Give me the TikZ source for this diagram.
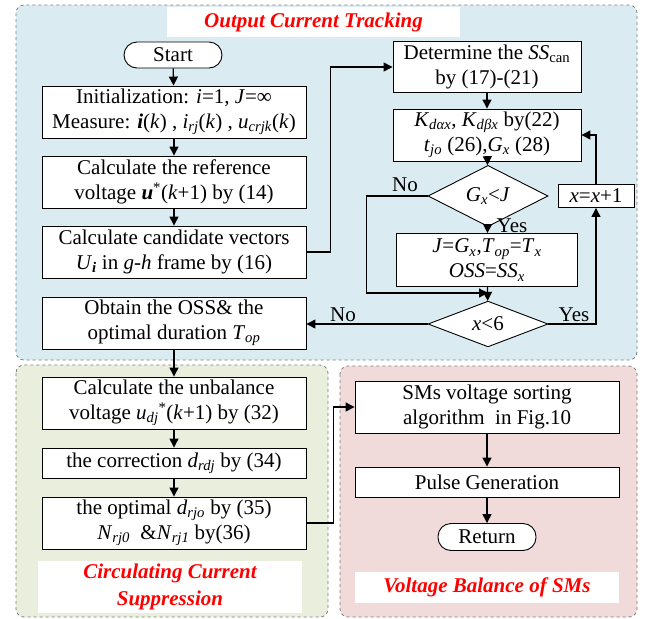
\documentclass[tikz,border=0pt]{standalone}
\usepackage{fontspec}
\setmainfont{Liberation Serif}
\usepackage{xcolor}
\usetikzlibrary{positioning,shapes,shapes.geometric,arrows.meta,calc}
\definecolor{trackbg}{HTML}{DAECF2}
\definecolor{circbg}{HTML}{E9EEDD}
\definecolor{balbg}{HTML}{F0DADA}
\definecolor{framegray}{HTML}{7F7F7F}
\newcommand{\sbs}[1]{\textsubscript{\textit{#1}}}
\tikzset{
    proc/.style={rectangle, draw, fill=white, line width=0.9pt, minimum width=264pt, minimum height=52pt, inner sep=0pt, align=center, font=\fontsize{21}{25}\selectfont},
    term/.style={rectangle, draw, fill=white, rounded corners=13pt, line width=0.9pt, minimum width=98pt, minimum height=26pt, inner sep=0pt, font=\fontsize{21}{25}\selectfont},
    decide/.style={diamond, draw, fill=white, line width=0.9pt, minimum width=120pt, minimum height=37pt, inner sep=0pt, font=\fontsize{21}{25}\selectfont},
    container/.style={draw=framegray, dashed, rounded corners=8pt, line width=0.8pt},
    title/.style={rectangle, fill=white, inner sep=0pt, align=center, text=red, font=\fontsize{21}{27}\selectfont\bfseries\itshape},
    lbl/.style={font=\fontsize{21}{25}\selectfont, inner sep=0pt},
    arrow/.style={-{Triangle[length=9pt,width=9pt]}, line width=1.3pt}
}

\begin{document}
\begin{tikzpicture}[x=1pt,y=-1pt]
\useasboundingbox (0,0) rectangle (649,619);
% the three areas
\draw[container, fill=trackbg] (16,5) rectangle (637,360);
\draw[container, fill=circbg] (16,365) rectangle (328,617);
\draw[container, fill=balbg] (340,366) rectangle (637,617);
\node[title, minimum width=293pt, minimum height=30pt] (ttrack) at (313.5,22) {Output Current Tracking};
\node[title, minimum width=264pt, minimum height=52pt] (tcirc) at (170,587) {Circulating Current\\Suppression};
\node[title, minimum width=264pt, minimum height=31pt] (tbal) at (487,587.5) {Voltage Balance of SMs};

% left column
\node[term] (start) at (173,55) {Start};
\node[proc] (init) at (174,112) {Initialization: \textit{i}=1, \textit{J}=∞\\Measure: \textbf{\textit{i}}(\textit{k}) , \textit{i}\sbs{rj}(\textit{k}) , \textit{u}\sbs{crjk}(\textit{k})};
\node[proc] (refv) at (174,182) {Calculate the reference\\voltage \textbf{\textit{u}}\textsuperscript{*}(\textit{k}+1) by (14)};
\node[proc] (cand) at (174,252) {Calculate candidate vectors\\\textit{U}\textsubscript{\textbf{\textit{i}}} in \textit{g}-\textit{h} frame by (16)};
\node[proc] (oss) at (174,323) {Obtain the OSS\& the\\optimal duration \textit{T}\sbs{op}};
\node[proc] (unb) at (174,403) {Calculate the unbalance\\voltage \textit{u}\sbs{dj}\textsuperscript{*}(\textit{k}+1) by (32)};
\node[proc, minimum height=30pt] (corr) at (174,463) {the correction \textit{d}\sbs{rdj} by (34)};
\node[proc] (opt) at (174,523) {the optimal \textit{d}\sbs{rjo} by (35)\\\textit{N}\sbs{rj0}~~\&\textit{N}\sbs{rj1} by(36)};

% right column
\node[proc, minimum width=188pt, minimum height=51pt] (det) at (487,67) {Determine the \textit{SS}\textsubscript{can}\\by (17)-(21)};
\node[proc, minimum width=188pt] (kcalc) at (487,135) {\textit{K}\sbs{dαx}, \textit{K}\sbs{dβx} by(22)\\\textit{t}\sbs{jo} (26),\textit{G}\sbs{x} (28)};
\node[decide] (gxj) at (488,196) {\textit{G}\sbs{x}<\textit{J}};
\node[proc, minimum width=181pt, minimum height=53pt] (upd) at (487,260) {\textit{J}=\textit{G}\sbs{x},\textit{T}\sbs{op}=\textit{T}\sbs{x}\\\textit{OSS}=\textit{SS}\sbs{x}};
\node[decide, minimum height=38pt] (xlt) at (488,324) {\textit{x}<6};
\node[proc, minimum width=76pt, minimum height=23pt] (inc) at (596,196) {\textit{x}=\textit{x}+1};
\coordinate (join) at (488,293);

% balance column
\node[proc] (sms) at (487,407) {SMs voltage sorting\\algorithm~~in Fig.10};
\node[proc, minimum height=30pt] (pulse) at (487,482) {Pulse Generation};
\node[term, minimum height=27pt] (ret) at (487,537) {Return};

% connectors
\draw[arrow] (start) -- (init);
\draw[arrow] (init) -- (refv);
\draw[arrow] (refv) -- (cand);
\draw[arrow] (cand.east) -- ++(24,0) |- (det.west);
\draw[arrow] (det) -- (kcalc);
\draw[arrow] (kcalc) -- (gxj);
\draw[arrow] (gxj) -- (upd);
\draw[arrow] (gxj.west) -- ++(-61,0) |- (join);
\draw[arrow] (upd) -- (xlt);
\draw[arrow] (xlt.east) -| (inc.south);
\draw[arrow] (inc.north) |- (kcalc.east);
\draw[arrow] (xlt.west) -- (xlt.west -| oss.east);
\draw[arrow] (oss) -- (unb);
\draw[arrow] (unb) -- (corr);
\draw[arrow] (corr) -- (opt);
\draw[arrow] (opt.east) -- ++(27,0) |- (sms.west);
\draw[arrow] (sms) -- (pulse);
\draw[arrow] (pulse) -- (ret);

\node[lbl] (no1) at (405,185) {No};
\node[lbl] (yes1) at (512,226) {Yes};
\node[lbl] (no2) at (343,315) {No};
\node[lbl] (yes2) at (574,315) {Yes};
\end{tikzpicture}
\end{document}
